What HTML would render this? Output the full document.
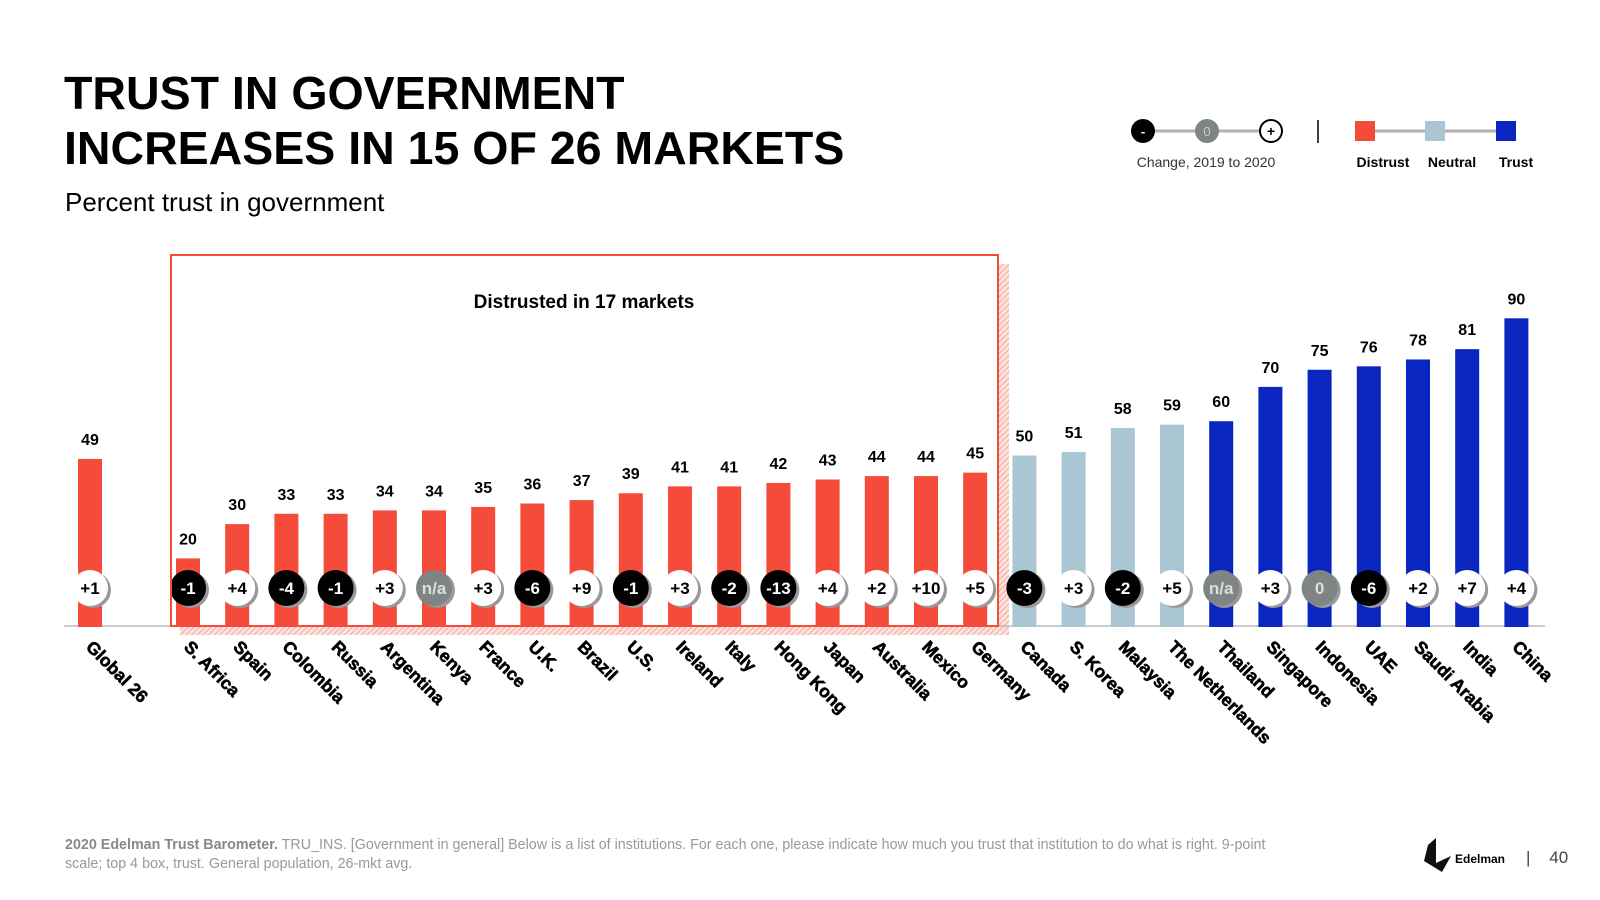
<!DOCTYPE html>
<html><head><meta charset="utf-8"><style>
body{margin:0;width:1600px;height:900px;background:#fff;font-family:"Liberation Sans",Arial,sans-serif;overflow:hidden;position:relative}
.abs{position:absolute}
</style></head><body>
<div class="abs" style="left:64px;top:66px;font-size:46.5px;font-weight:bold;line-height:55px;color:#000">TRUST IN GOVERNMENT<br>INCREASES IN 15 OF 26 MARKETS</div>
<div class="abs" style="left:65px;top:187px;font-size:26px;color:#000">Percent trust in government</div>
<div class="abs" style="left:65px;top:836px;width:1225px;font-size:14.3px;line-height:19px;color:#999"><b style="color:#888">2020 Edelman Trust Barometer.</b> TRU_INS. [Government in general] Below is a list of institutions. For each one, please indicate how much you trust that institution to do what is right. 9-point scale; top 4 box, trust. General population, 26-mkt avg.</div>
<div class="abs" style="left:1526px;top:848px;font-size:17px;color:#444">|&nbsp;&nbsp;&nbsp;&nbsp;40</div>
<svg class="abs" style="left:0;top:0" width="1600" height="900" id="svg">
<defs><pattern id="hatch" width="4" height="4" patternUnits="userSpaceOnUse" patternTransform="rotate(45)"><rect width="4" height="4" fill="#fde3df"/><line x1="0" y1="0" x2="0" y2="4" stroke="#f5a79d" stroke-width="2"/></pattern></defs>
<g transform="translate(-7,0)">
<line x1="1150" y1="131" x2="1279" y2="131" stroke="#b0b0b0" stroke-width="3"/>
<circle cx="1150" cy="131" r="12" fill="#000"/><text x="1150" y="136" fill="#fff" font-size="13" font-weight="bold" text-anchor="middle">-</text>
<circle cx="1214" cy="131" r="12" fill="#7f8485"/><text x="1214" y="136" fill="#ccc" font-size="13" text-anchor="middle">0</text>
<circle cx="1278" cy="131" r="11" fill="#fff" stroke="#000" stroke-width="2"/><text x="1278" y="136" fill="#000" font-size="14" font-weight="bold" text-anchor="middle">+</text>
<text x="1213" y="167" font-size="14" fill="#333" text-anchor="middle">Change, 2019 to 2020</text>
<line x1="1325" y1="120" x2="1325" y2="143" stroke="#000" stroke-width="1.5"/>
<line x1="1370" y1="131" x2="1513" y2="131" stroke="#b0b0b0" stroke-width="3"/>
<rect x="1362" y="121" width="20" height="20" fill="#f44b3a"/>
<rect x="1432" y="121" width="20" height="20" fill="#a9c6d2"/>
<rect x="1503" y="121" width="20" height="20" fill="#0a26c0"/>
<text x="1390" y="167" font-size="14" font-weight="bold" text-anchor="middle">Distrust</text>
<text x="1459" y="167" font-size="14" font-weight="bold" text-anchor="middle">Neutral</text>
<text x="1523" y="167" font-size="14" font-weight="bold" text-anchor="middle">Trust</text>
</g>
<g><polygon points="1428,845 1436,838 1436,863 1451,856 1442,872 1424,861" fill="#111"/><text x="1455" y="863" font-size="12" font-weight="bold">Edelman</text></g>
<rect x="999" y="264" width="10" height="371" fill="url(#hatch)"/>
<rect x="180" y="627" width="829" height="8" fill="url(#hatch)"/>
<line x1="64" y1="626" x2="1545" y2="626" stroke="#bbb" stroke-width="1.5"/>
<g id="bars"></g>
<rect x="171" y="255" width="827" height="371" fill="none" stroke="#f44b3a" stroke-width="2"/>
<text x="584" y="308" font-size="19" font-weight="bold" text-anchor="middle">Distrusted in 17 markets</text>
</svg>
<script>
const categories=["Global 26","S. Africa","Spain","Colombia","Russia","Argentina","Kenya","France","U.K.","Brazil","U.S.","Ireland","Italy","Hong Kong","Japan","Australia","Mexico","Germany","Canada","S. Korea","Malaysia","The Netherlands","Thailand","Singapore","Indonesia","UAE","Saudi Arabia","India","China"];
const values=[49,20,30,33,33,34,34,35,36,37,39,41,41,42,43,44,44,45,50,51,58,59,60,70,75,76,78,81,90];
const changes=["+1","-1","+4","-4","-1","+3","n/a","+3","-6","+9","-1","+3","-2","-13","+4","+2","+10","+5","-3","+3","-2","+5","n/a","+3","0","-6","+2","+7","+4"];
const NS="http://www.w3.org/2000/svg";
const g=document.getElementById('bars');
function xPos(i){return i===0?90:188+(i-1)*49.2;}
function yPos(v){return 627-v*3.43;}
function color(v){return v<50?"#f44b3a":(v<60?"#a9c6d2":"#0a26c0");}
function mk(t,a){const e=document.createElementNS(NS,t);for(const k in a)e.setAttribute(k,a[k]);return e;}
categories.forEach((c,i)=>{
 const x=xPos(i),v=values[i],y=yPos(v);
 const r=mk('rect',{x:x-12,y:y,width:24,height:yPos(0)-y,fill:color(v)});
 
 g.appendChild(r);
 const t=mk('text',{x:x,y:y-14,'font-size':16,'font-weight':'bold','text-anchor':'middle'});t.textContent=v;
 
 g.appendChild(t);
 const ch=changes[i];const neg=ch[0]==='-';const gray=(ch==='n/a'||ch==='0');
 const fill=neg?'#000':(gray?'#7f8485':'#fff');
 const bg=mk('g',{});
 
 
 bg.appendChild(mk('circle',{cx:x+3,cy:590,r:18,fill:'#999'}));
 bg.appendChild(mk('circle',{cx:x,cy:588,r:18,fill:fill}));
 const ct=mk('text',{x:x,y:594,'font-size':17,'font-weight':'bold','text-anchor':'middle',fill:(neg||gray)?(gray?'#ddd':'#fff'):'#000'});ct.textContent=ch;
 bg.appendChild(ct);g.appendChild(bg);
 const lt=mk('text',{x:0,y:0,'font-size':17.5,'font-weight':'bold',stroke:'#000','stroke-width':0.6,transform:`translate(${x-5},${648}) rotate(45)`});lt.textContent=c;
 
 g.appendChild(lt);
});
</script>
</body></html>
